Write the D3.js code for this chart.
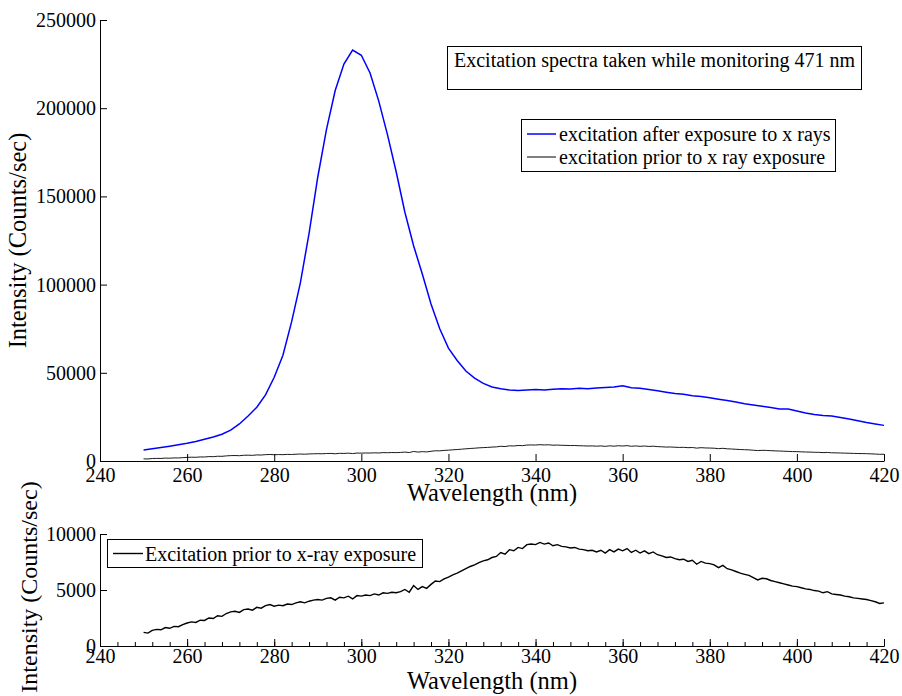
<!DOCTYPE html>
<html>
<head>
<meta charset="utf-8">
<script src="https://cdn.jsdelivr.net/npm/d3@7"></script>
<style>
  html, body { margin: 0; padding: 0; background: #fff; }
  svg { display: block; }
</style>
</head>
<body>
<svg id="chart" width="902" height="696"></svg>
<script>
// ---------------- DATA ----------------
// Excitation after exposure to x rays (blue), wavelengths 250..420 nm every 2 nm
const afterStart = 250, afterStep = 2;
const afterValues = [
  6300, 7000, 7700, 8400, 9200, 10000, 11000, 12300, 13600, 15200,      // 250-268
  17500, 21000, 25500, 30500, 37500, 47500, 60000, 79000, 101000, 129000, // 270-288
  161000, 188000, 210000, 225000, 233000, 230000, 220000, 204000, 185000, 164000, // 290-308
  141000, 122000, 106000, 89000, 75000, 64000, 57000, 51000, 47000, 44000, // 310-328
  42000, 41000, 40300, 39900, 40200, 40500, 40300, 40700, 41000, 40800,  // 330-348
  41200, 41000, 41400, 41600, 41900, 42600, 41500, 41300, 40500, 39800,  // 350-368
  39000, 38300, 37800, 37000, 36600, 35800, 35000, 34300, 33500, 32500,  // 370-388
  31800, 31000, 30300, 29500, 29500, 28300, 27200, 26300, 25800, 25500,  // 390-408
  24600, 23800, 22800, 21800, 21000, 20200                               // 410-420
];

// Excitation prior to x-ray exposure (black), wavelengths 250..420 nm every 1 nm
const priorStart = 250, priorStep = 1;
const priorValues = [
  1220, 1150, 1400, 1480, 1450, 1650, 1580, 1750, 1720, 1900,  // 250-259
  2050, 2150, 2100, 2300, 2280, 2500, 2450, 2700, 2650, 2900,  // 260-269
  3050, 3100, 3000, 3250, 3300, 3200, 3450, 3380, 3600, 3700,  // 270-279
  3550, 3650, 3600, 3750, 3700, 3850, 3950, 3850, 4000, 4100,  // 280-289
  4150, 4100, 4250, 4300, 4100, 4350, 4300, 4450, 4200, 4500,  // 290-299
  4450, 4550, 4500, 4650, 4550, 4750, 4700, 4800, 4750, 4850,  // 300-309
  5050, 4800, 5400, 5050, 5300, 5150, 5500, 5800, 5750, 6000,  // 310-319
  6150, 6350, 6500, 6700, 6900, 7100, 7250, 7450, 7600, 7700,  // 320-329
  7900, 8000, 8350, 8200, 8600, 8500, 8800, 8700, 9050, 9100,  // 330-339
  9050, 9250, 9100, 9200, 8950, 9050, 8900, 8850, 8750, 8800,  // 340-349
  8650, 8600, 8500, 8550, 8400, 8550, 8300, 8600, 8400, 8650,  // 350-359
  8500, 8700, 8350, 8550, 8300, 8500, 8250, 8400, 8150, 8050,  // 360-369
  7900, 7950, 7800, 7700, 7750, 7550, 7650, 7300, 7550, 7400,  // 370-379
  7350, 7250, 7000, 7200, 6900, 6800, 6650, 6500, 6400, 6300,  // 380-389
  6100, 5900, 6050, 6000, 5850, 5750, 5650, 5550, 5450, 5350,  // 390-399
  5300, 5200, 5100, 5050, 4950, 4900, 4750, 4850, 4650, 4600,  // 400-409
  4550, 4450, 4400, 4300, 4250, 4200, 4150, 4050, 3950, 3800,  // 410-419
  3850                                                         // 420
];

const xTicks = [240, 260, 280, 300, 320, 340, 360, 380, 400, 420];
const xMinorTicks = d3.range(240, 421, 4);
const topYTicks = [0, 50000, 100000, 150000, 200000, 250000];
const bottomYTicks = [0, 5000, 10000];

const titleText = "Excitation spectra taken while monitoring 471 nm";
const legendTop = ["excitation after exposure to x rays", "excitation prior to x ray exposure"];
const legendBottom = "Excitation prior to x-ray exposure";
const xLabel = "Wavelength (nm)";
const yLabel = "Intensity (Counts/sec)";

// ---------------- BUILD ----------------
const FONT = '"Liberation Serif"';
const afterData = afterValues.map((v, i) => ({ x: afterStart + i * afterStep, y: v }));
const priorData = priorValues.map((v, i) => ({ x: priorStart + i * priorStep, y: v }));

const svg = d3.select("#chart");
svg.append("rect").attr("width", 902).attr("height", 696).attr("fill", "#fff");

const x = d3.scaleLinear().domain([240, 420]).range([100, 884]);
const yTop = d3.scaleLinear().domain([0, 250000]).range([461, 20]);
const yBot = d3.scaleLinear().domain([0, 10000]).range([646, 534]);

function txt(sel, size) {
  return sel.style("font-family", FONT).style("font-size", size + "px").attr("fill", "#000");
}

function styleAxis(g, fs) {
  g.attr("font-family", null).attr("font-size", null);
  g.selectAll("path.domain").attr("stroke", "#000").attr("stroke-width", 1);
  g.selectAll(".tick line").attr("stroke", "#000").attr("stroke-width", 1);
  txt(g.selectAll(".tick text"), fs);
}

// ---- Top panel ----
const gTopX = svg.append("g").attr("transform", `translate(0,${yTop(0)})`)
  .call(d3.axisBottom(x).tickValues(xTicks).tickFormat(d3.format("d"))
    .tickSize(-7).tickSizeOuter(0).tickPadding(7));
styleAxis(gTopX, 20);

const gTopY = svg.append("g").attr("transform", `translate(${x(240)},0)`)
  .call(d3.axisLeft(yTop).tickValues(topYTicks).tickFormat(d3.format("d"))
    .tickSize(-7).tickSizeOuter(0).tickPadding(4));
styleAxis(gTopY, 20);

const lineTop = d3.line().x(d => x(d.x)).y(d => yTop(d.y));
svg.append("path").datum(priorData).attr("d", lineTop)
  .attr("fill", "none").attr("stroke", "#000").attr("stroke-width", 0.9);
svg.append("path").datum(afterData).attr("d", lineTop)
  .attr("fill", "none").attr("stroke", "#0000ff").attr("stroke-width", 1.5);

txt(svg.append("text").attr("x", 492).attr("y", 501).attr("text-anchor", "middle"), 24.5).text(xLabel);
txt(svg.append("text").attr("transform", `translate(26,${(yTop(0) + yTop(250000)) / 2}) rotate(-90)`)
  .attr("text-anchor", "middle"), 24.5).text(yLabel);

// Title box
svg.append("rect").attr("x", 447.5).attr("y", 46.5).attr("width", 414).attr("height", 43)
  .attr("fill", "#fff").attr("stroke", "#000").attr("stroke-width", 1);
txt(svg.append("text").attr("x", 454).attr("y", 67), 20).text(titleText);

// Legend top
svg.append("rect").attr("x", 521.5).attr("y", 119.5).attr("width", 314).attr("height", 52)
  .attr("fill", "#fff").attr("stroke", "#000").attr("stroke-width", 1);
const legColors = ["#0000ff", "#000"];
legendTop.forEach((t, i) => {
  const ly = 134 + i * 23;
  svg.append("line").attr("x1", 527).attr("x2", 556).attr("y1", ly).attr("y2", ly)
    .attr("stroke", legColors[i]).attr("stroke-width", i === 0 ? 1.5 : 1);
  txt(svg.append("text").attr("x", 559).attr("y", ly + 7), 20).text(t);
});

// ---- Bottom panel ----
const gBotXMinor = svg.append("g").attr("transform", `translate(0,${yBot(0)})`)
  .call(d3.axisBottom(x).tickValues(xMinorTicks).tickFormat("").tickSize(-4).tickSizeOuter(0));
styleAxis(gBotXMinor, 20);
const gBotX = svg.append("g").attr("transform", `translate(0,${yBot(0)})`)
  .call(d3.axisBottom(x).tickValues(xTicks).tickFormat(d3.format("d"))
    .tickSize(-7).tickSizeOuter(0).tickPadding(3));
styleAxis(gBotX, 20);

const gBotY = svg.append("g").attr("transform", `translate(${x(240)},0)`)
  .call(d3.axisLeft(yBot).tickValues(bottomYTicks).tickFormat(d3.format("d"))
    .tickSize(-7).tickSizeOuter(0).tickPadding(4));
styleAxis(gBotY, 20);

const lineBot = d3.line().x(d => x(d.x)).y(d => yBot(d.y));
svg.append("path").datum(priorData).attr("d", lineBot)
  .attr("fill", "none").attr("stroke", "#000").attr("stroke-width", 1.4);

txt(svg.append("text").attr("x", 492).attr("y", 689).attr("text-anchor", "middle"), 24.5).text(xLabel);
txt(svg.append("text").attr("transform", `translate(37,587) rotate(-90)`)
  .attr("text-anchor", "middle"), 24).text(yLabel);

// Legend bottom
svg.append("rect").attr("x", 107.5).attr("y", 539.5).attr("width", 315).attr("height", 28)
  .attr("fill", "#fff").attr("stroke", "#000").attr("stroke-width", 1);
svg.append("line").attr("x1", 113).attr("x2", 143).attr("y1", 553.5).attr("y2", 553.5)
  .attr("stroke", "#000").attr("stroke-width", 1.4);
txt(svg.append("text").attr("x", 145).attr("y", 560.5), 20).text(legendBottom);
</script>
</body>
</html>
